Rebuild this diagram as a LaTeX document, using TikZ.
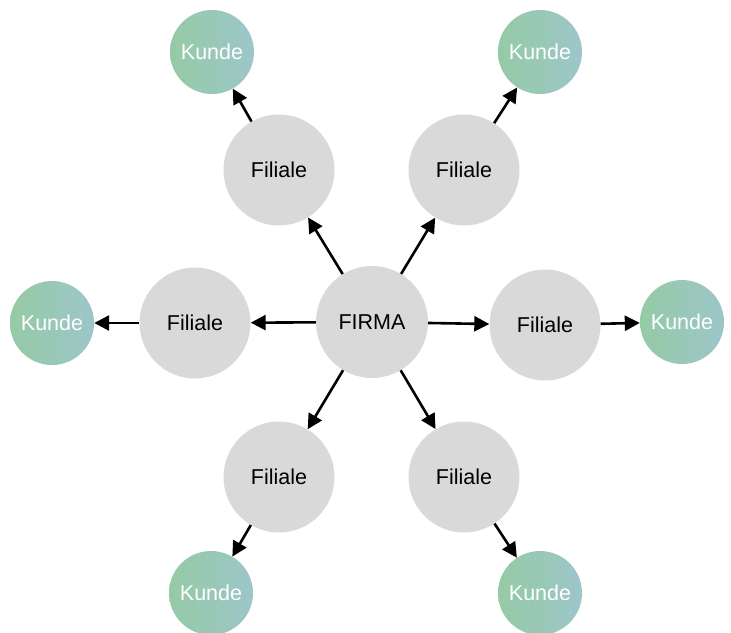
\documentclass[tikz,border=0pt]{standalone}
\usepackage{fontspec}
\setmainfont{Liberation Sans}
\usetikzlibrary{arrows.meta}
\definecolor{filgray}{HTML}{D9D9D9}
\definecolor{kleft}{HTML}{95CAA5}
\definecolor{kright}{HTML}{9DC6CA}
\begin{document}
\begin{tikzpicture}[x=1pt,y=-1pt,
  txt/.style={font=\fontsize{21.5}{24}\selectfont},
  filiale/.style={circle,fill=filgray,minimum size=111pt,inner sep=0pt,txt,text=black},
  firma/.style={circle,fill=filgray,minimum size=112pt,inner sep=0pt,txt,text=black},
  kunde/.style={circle,left color=kleft,right color=kright,minimum size=84pt,inner sep=0pt,txt,text=white},
  arr/.style={line width=2.6pt,-{Triangle[length=15pt,width=15pt]}}]
\useasboundingbox (0,0) rectangle (731,632);
\node[firma] (firma) at (372,322) {FIRMA};
\node[filiale] (ftl) at (279,170) {Filiale};
\node[filiale] (ftr) at (464,170) {Filiale};
\node[filiale] (fl) at (195,323) {Filiale};
\node[filiale] (fr) at (545,325) {Filiale};
\node[filiale] (fbl) at (279,477) {Filiale};
\node[filiale] (fbr) at (464,477) {Filiale};
\node[kunde] (ktl) at (212,52) {Kunde};
\node[kunde] (ktr) at (540,52) {Kunde};
\node[kunde] (kl) at (52,323) {Kunde};
\node[kunde] (kr) at (682,322) {Kunde};
\node[kunde] (kbl) at (211,593) {Kunde};
\node[kunde] (kbr) at (540,593) {Kunde};
\foreach \f in {ftl,ftr,fl,fr,fbl,fbr} \draw[arr] (firma) -- (\f);
\draw[arr] (ftl) -- (ktl);
\draw[arr] (ftr) -- (ktr);
\draw[arr] (fl) -- (kl);
\draw[arr] (fr) -- (kr);
\draw[arr] (fbl) -- (kbl);
\draw[arr] (fbr) -- (kbr);
\end{tikzpicture}
\end{document}
